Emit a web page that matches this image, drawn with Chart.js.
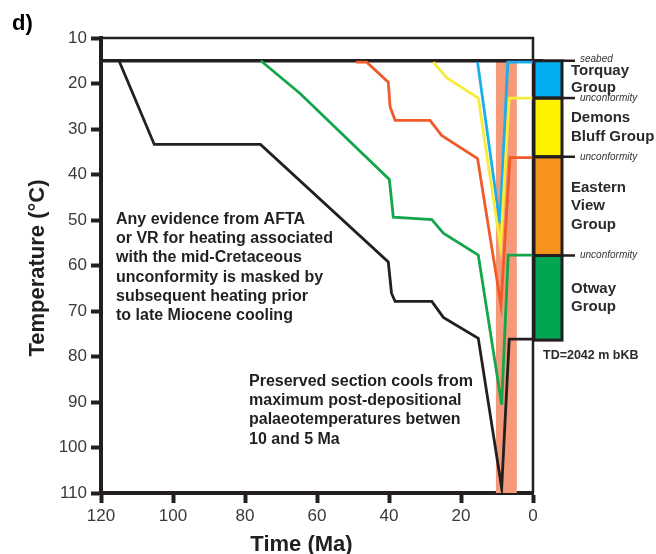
<!DOCTYPE html>
<html>
<head>
<meta charset="utf-8">
<script src="https://cdn.jsdelivr.net/npm/chart.js@4.4.0/dist/chart.umd.min.js"></script>
<style>
  html, body { margin: 0; padding: 0; background: #fff; }
</style>
</head>
<body>
<canvas id="grafica" width="656" height="554"></canvas>
<script>
// thermal histories: time (Ma) and temperature (°C)
const blueTime = [15.4, 9.2, 7.0, 0];
const blueTemp = [15.3, 50.7, 15.3, 15.3];
const yellowTime = [27.7, 24.0, 15.2, 9.0, 6.6, 0];
const yellowTemp = [15.3, 18.7, 23.2, 55.9, 23.2, 23.2];
const orangeTime = [49.2, 46.2, 40.2, 39.7, 38.3, 28.6, 25.4, 15.4, 8.9, 6.4, 0];
const orangeTemp = [15.3, 15.3, 19.7, 25.1, 28.1, 28.1, 31.4, 36.5, 68.7, 36.3, 36.3];
const greenTime = [75.6, 64.7, 39.9, 38.8, 28.1, 24.9, 15.2, 8.7, 6.9, 0];
const greenTemp = [15, 22.2, 41.1, 49.4, 49.9, 52.9, 57.7, 90.6, 57.7, 57.7];
const blackTime = [115, 105.2, 75.7, 40.2, 39.3, 38.3, 28.1, 24.9, 15.2, 8.7, 6.6, 0];
const blackTemp = [15, 33.4, 33.4, 59.2, 66.1, 67.9, 67.9, 71.4, 76.0, 108.9, 76.2, 76.2];

// cooling window (Ma) and seabed temperature
const coolingWindow = [10.3, 4.5];
const seabedTemp = 15;

// stratigraphic column
const groupNames = [['Torquay', 'Group'], ['Demons', 'Bluff Group'], ['Eastern', 'View', 'Group'], ['Otway', 'Group']];
const groupTops = [15, 23.2, 36.1, 57.8];
const groupBases = [23.2, 36.1, 57.8, 76.4];
const boundaryLabels = ['seabed', 'unconformity', 'unconformity', 'unconformity'];
const groupColors = ['#00AEEF', '#FFF200', '#F7941D', '#00A651'];

const xTicks = [0, 20, 40, 60, 80, 100, 120];
const yTicks = [10, 20, 30, 40, 50, 60, 70, 80, 90, 100, 110];

const note1 = ['Any evidence from AFTA', 'or VR for heating associated', 'with the mid-Cretaceous',
  'unconformity is masked by', 'subsequent heating prior', 'to late Miocene cooling'];
const note2 = ['Preserved section cools from', 'maximum post-depositional',
  'palaeotemperatures betwen', '10 and 5 Ma'];

function pts(t, T) {
  return t.map((v, i) => ({ x: v, y: T[i] }));
}

const ink = '#231F20';

const extras = {
  id: 'extras',
  beforeDatasetsDraw(chart) {
    const { ctx, chartArea: a, scales: { x, y } } = chart;
    ctx.save();
    // cooling window band
    const bx1 = x.getPixelForValue(coolingWindow[0]);
    const bx2 = x.getPixelForValue(coolingWindow[1]);
    const by = y.getPixelForValue(seabedTemp);
    ctx.fillStyle = '#F49A7B';
    ctx.fillRect(bx1, by, bx2 - bx1, a.bottom - by);
    // top and right frame
    ctx.strokeStyle = ink;
    ctx.lineWidth = 2.5;
    ctx.beginPath();
    ctx.moveTo(a.left, a.top);
    ctx.lineTo(a.right, a.top);
    ctx.lineTo(a.right, a.bottom);
    ctx.stroke();
    // seabed line
    ctx.lineWidth = 3.5;
    ctx.beginPath();
    ctx.moveTo(a.left, by);
    ctx.lineTo(a.right + 10, by);
    ctx.stroke();
    ctx.restore();
  },
  afterDraw(chart) {
    const { ctx, chartArea: a, scales: { y } } = chart;
    ctx.save();
    // column boxes
    const cx0 = a.right + 1, cx1 = a.right + 29;
    groupTops.forEach((top, i) => {
      const y0 = y.getPixelForValue(top), y1 = y.getPixelForValue(groupBases[i]);
      ctx.fillStyle = groupColors[i];
      ctx.fillRect(cx0, y0, cx1 - cx0, y1 - y0);
    });
    ctx.strokeStyle = ink;
    ctx.lineWidth = 3;
    groupTops.forEach((top, i) => {
      const y0 = y.getPixelForValue(top), y1 = y.getPixelForValue(groupBases[i]);
      ctx.strokeRect(cx0, y0, cx1 - cx0, y1 - y0);
    });
    // boundary ticks and labels
    ctx.lineWidth = 2.5;
    ctx.font = 'italic 10px "Liberation Sans", Arial, sans-serif';
    ctx.fillStyle = '#333';
    ctx.textBaseline = 'middle';
    ctx.textAlign = 'left';
    groupTops.forEach((top, i) => {
      const yy = y.getPixelForValue(top);
      ctx.beginPath();
      ctx.moveTo(cx1, yy);
      ctx.lineTo(cx1 + 13, yy);
      ctx.stroke();
      ctx.fillText(boundaryLabels[i], cx1 + 18, yy - (i === 0 ? 2 : 0));
    });
    // group names
    ctx.font = 'bold 15px "Liberation Sans", Arial, sans-serif';
    ctx.fillStyle = '#2b2b2b';
    groupNames.forEach((lines, i) => {
      const mid = (y.getPixelForValue(groupTops[i]) + y.getPixelForValue(groupBases[i])) / 2;
      const step = i === 0 ? 17 : 18.5;
      lines.forEach((s, j) => {
        ctx.fillText(s, cx0 + 37, mid + (j - (lines.length - 1) / 2) * step);
      });
    });
    ctx.textBaseline = 'alphabetic';
    ctx.font = 'bold 12.5px "Liberation Sans", Arial, sans-serif';
    ctx.fillText('TD=2042 m bKB', a.right + 10, 358.5);

    // notes
    ctx.fillStyle = ink;
    ctx.font = 'bold 16px "Liberation Sans", Arial, sans-serif';
    note1.forEach((s, j) => ctx.fillText(s, 116, 224 + j * 19.2));
    note2.forEach((s, j) => ctx.fillText(s, 249, 386 + j * 19.2));

    // panel letter and axis titles
    ctx.fillStyle = '#000';
    ctx.font = 'bold 22px "Liberation Sans", Arial, sans-serif';
    ctx.fillText('d)', 12, 30);
    ctx.textAlign = 'center';
    ctx.fillStyle = ink;
    ctx.fillText('Time (Ma)', 301.5, 551);
    ctx.translate(44, 268);
    ctx.rotate(-Math.PI / 2);
    ctx.fillText('Temperature (°C)', 0, 0);
    ctx.restore();
  }
};

function line(t, T, color) {
  return {
    data: pts(t, T),
    showLine: true,
    borderColor: color,
    borderWidth: 2.8,
    pointRadius: 0,
    fill: false
  };
}

const tickFont = { size: 17, family: '"Liberation Sans", Arial, sans-serif' };

new Chart(document.getElementById('grafica'), {
  type: 'scatter',
  data: {
    datasets: [
      line(blackTime, blackTemp, ink),
      line(greenTime, greenTemp, '#13A64B'),
      line(orangeTime, orangeTemp, '#F15A29'),
      line(yellowTime, yellowTemp, '#F7EC38'),
      line(blueTime, blueTemp, '#1CAEEB')
    ]
  },
  options: {
    responsive: false,
    animation: false,
    layout: { padding: { top: 38, right: 123, left: 0, bottom: 0 } },
    plugins: { legend: { display: false }, tooltip: { enabled: false } },
    scales: {
      x: {
        type: 'linear',
        reverse: true,
        min: 0,
        max: 120,
        afterBuildTicks: (s) => { s.ticks = xTicks.map(v => ({ value: v })); },
        afterFit: (s) => { s.height = 61; },
        ticks: { color: '#3a3a3a', font: tickFont, padding: 3, maxRotation: 0 },
        grid: { drawOnChartArea: false, drawTicks: true, tickLength: 10, tickWidth: 4, tickColor: ink },
        border: { display: true, width: 4, color: ink }
      },
      y: {
        type: 'linear',
        reverse: true,
        min: 10,
        max: 110,
        afterBuildTicks: (s) => { s.ticks = yTicks.map(v => ({ value: v })); },
        afterFit: (s) => { s.width = 101; },
        ticks: { color: '#3a3a3a', font: tickFont, padding: 4 },
        grid: { drawOnChartArea: false, drawTicks: true, tickLength: 10, tickWidth: 4, tickColor: ink },
        border: { display: true, width: 4, color: ink }
      }
    }
  },
  plugins: [extras]
});
</script>
</body>
</html>
